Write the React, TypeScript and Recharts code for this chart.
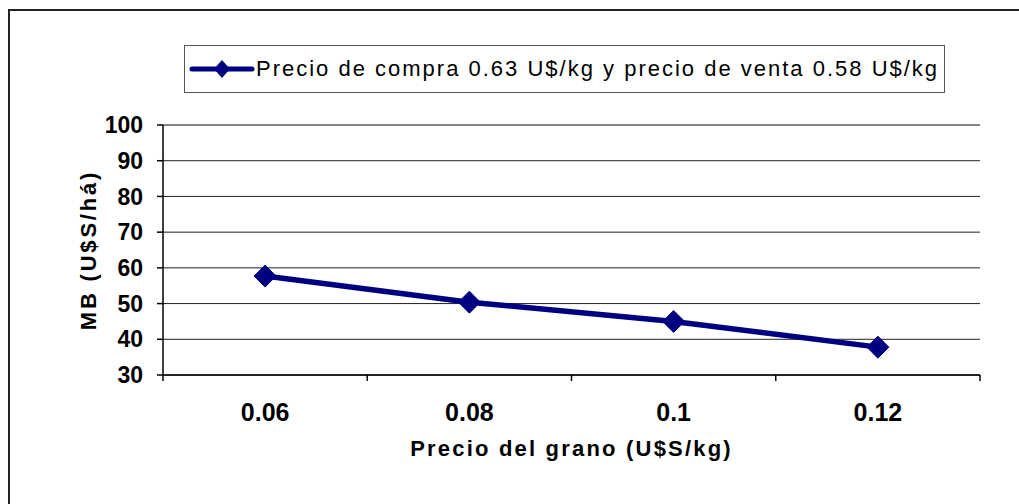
import React from 'react';
import {
  LineChart,
  Line,
  XAxis,
  YAxis,
  CartesianGrid,
  ReferenceLine,
  Legend,
  Label,
} from 'recharts';

// Precio del grano (U$S/kg) en el eje de categorías
const categories = ['0.06', '0.08', '0.1', '0.12'];
// Margen bruto (U$S/há) para cada precio
const margenBruto = [57.7, 50.4, 45.0, 37.8];
const yTicks = [30, 40, 50, 60, 70, 80, 90, 100];
const seriesName = 'Precio de compra 0.63 U$/kg y precio de venta 0.58 U$/kg';

const data = categories.map((precio, i) => ({ precio, mb: margenBruto[i] }));

const FONT = '"Liberation Sans", Arial, sans-serif';
const NAVY = '#000080';

function Diamond({ cx, cy, r = 11 }: { cx?: number; cy?: number; r?: number }) {
  if (cx == null || cy == null) return null;
  return (
    <polygon
      points={`${cx},${cy - r} ${cx + r},${cy} ${cx},${cy + r} ${cx - r},${cy}`}
      fill={NAVY}
      stroke={NAVY}
    />
  );
}

// Excel-style category ticks: marks sit on the band edges, labels in the middle
function CategoryTick(props: any) {
  const { x, y, payload, index } = props;
  const half = payload?.offset ?? 0;
  const last = index === categories.length - 1;
  return (
    <g>
      <line x1={x - half} y1={y} x2={x - half} y2={y + 6} stroke="#000" strokeWidth={1.5} />
      {last && <line x1={x + half} y1={y} x2={x + half} y2={y + 6} stroke="#000" strokeWidth={1.5} />}
      <text
        x={x}
        y={y + 46}
        textAnchor="middle"
        fontFamily={FONT}
        fontWeight="bold"
        fontSize={25}
        fill="#000"
      >
        {payload.value}
      </text>
    </g>
  );
}

function LegendBox() {
  return (
    <div
      style={{
        width: 759,
        height: 46,
        border: '1px solid #555',
        background: '#fff',
        display: 'flex',
        alignItems: 'center',
        boxSizing: 'content-box',
      }}
    >
      <svg width={70} height={24} style={{ flex: 'none' }}>
        <line x1={7} y1={12} x2={67} y2={12} stroke={NAVY} strokeWidth={5} strokeLinecap="round" />
        <polygon points="37,3 45,12 37,21 29,12" fill={NAVY} />
      </svg>
      <span
        style={{
          fontFamily: FONT,
          fontSize: 22,
          letterSpacing: 2,
          color: '#000',
          whiteSpace: 'nowrap',
          marginLeft: 1,
        }}
      >
        {seriesName}
      </span>
    </div>
  );
}

export default function App() {
  return (
    <div style={{ position: 'absolute', left: 0, top: 0, width: 1019, height: 504, overflow: 'hidden', background: '#fff' }}>
      {/* outer chart frame, its right and bottom edges fall outside the page */}
      <div
        style={{
          position: 'absolute',
          left: 8,
          top: 9,
          width: 1100,
          height: 600,
          borderLeft: '2px solid #222',
          borderTop: '2px solid #222',
        }}
      />
      <div style={{ position: 'absolute', left: 0, top: 0 }}>
        <LineChart
          width={1019}
          height={504}
          data={data}
          margin={{ top: 125, right: 39, left: 103, bottom: 99 }}
        >
          <CartesianGrid vertical={false} stroke="#222" strokeWidth={1} />
          <XAxis
            dataKey="precio"
            scale="band"
            height={30}
            tickSize={0}
            tickMargin={0}
            tickLine={false}
            axisLine={{ stroke: '#000', strokeWidth: 1.5 }}
            tick={<CategoryTick />}
            interval={0}
          >
            <Label
              content={(p: any) => {
                const vb = p.viewBox;
                return (
                  <text
                    x={vb.x + vb.width / 2}
                    y={vb.y + 81}
                    textAnchor="middle"
                    fontFamily={FONT}
                    fontWeight="bold"
                    fontSize={22}
                    letterSpacing={2.2}
                    fill="#000"
                  >
                    Precio del grano (U$S/kg)
                  </text>
                );
              }}
            />
          </XAxis>
          <YAxis
            width={60}
            domain={[30, 100]}
            ticks={yTicks}
            interval={0}
            tickSize={6}
            tickMargin={14}
            tickLine={{ stroke: '#000', strokeWidth: 1.5 }}
            axisLine={{ stroke: '#000', strokeWidth: 1.5 }}
            tick={{ fontFamily: FONT, fontWeight: 'bold', fontSize: 23, fill: '#000' }}
          >
            <Label
              content={(p: any) => {
                const vb = p.viewBox;
                const cx = vb.x - 15;
                const cy = vb.y + vb.height / 2;
                return (
                  <text
                    x={cx}
                    y={cy}
                    transform={`rotate(-90 ${cx} ${cy})`}
                    textAnchor="middle"
                    dominantBaseline="central"
                    fontFamily={FONT}
                    fontWeight="bold"
                    fontSize={22}
                    letterSpacing={2.8}
                    fill="#000"
                  >
                    MB (U$S/há)
                  </text>
                );
              }}
            />
          </YAxis>
          <YAxis
            yAxisId="frame"
            orientation="right"
            width={0}
            domain={[30, 100]}
            tick={false}
            tickLine={false}
            axisLine={{ stroke: '#808080', strokeWidth: 1.5 }}
          />
          <ReferenceLine y={100} stroke="#808080" strokeWidth={1.5} />
          <Legend
            layout="horizontal"
            verticalAlign="middle"
            align="center"
            wrapperStyle={{ position: 'absolute', left: 184, top: 45, width: 'auto' }}
            content={() => <LegendBox />}
          />
          <Line
            type="linear"
            dataKey="mb"
            name={seriesName}
            stroke={NAVY}
            strokeWidth={5.5}
            dot={(p: any) => <Diamond key={p.index} cx={p.cx} cy={p.cy} />}
            activeDot={false}
            isAnimationActive={false}
          />
        </LineChart>
      </div>
    </div>
  );
}
